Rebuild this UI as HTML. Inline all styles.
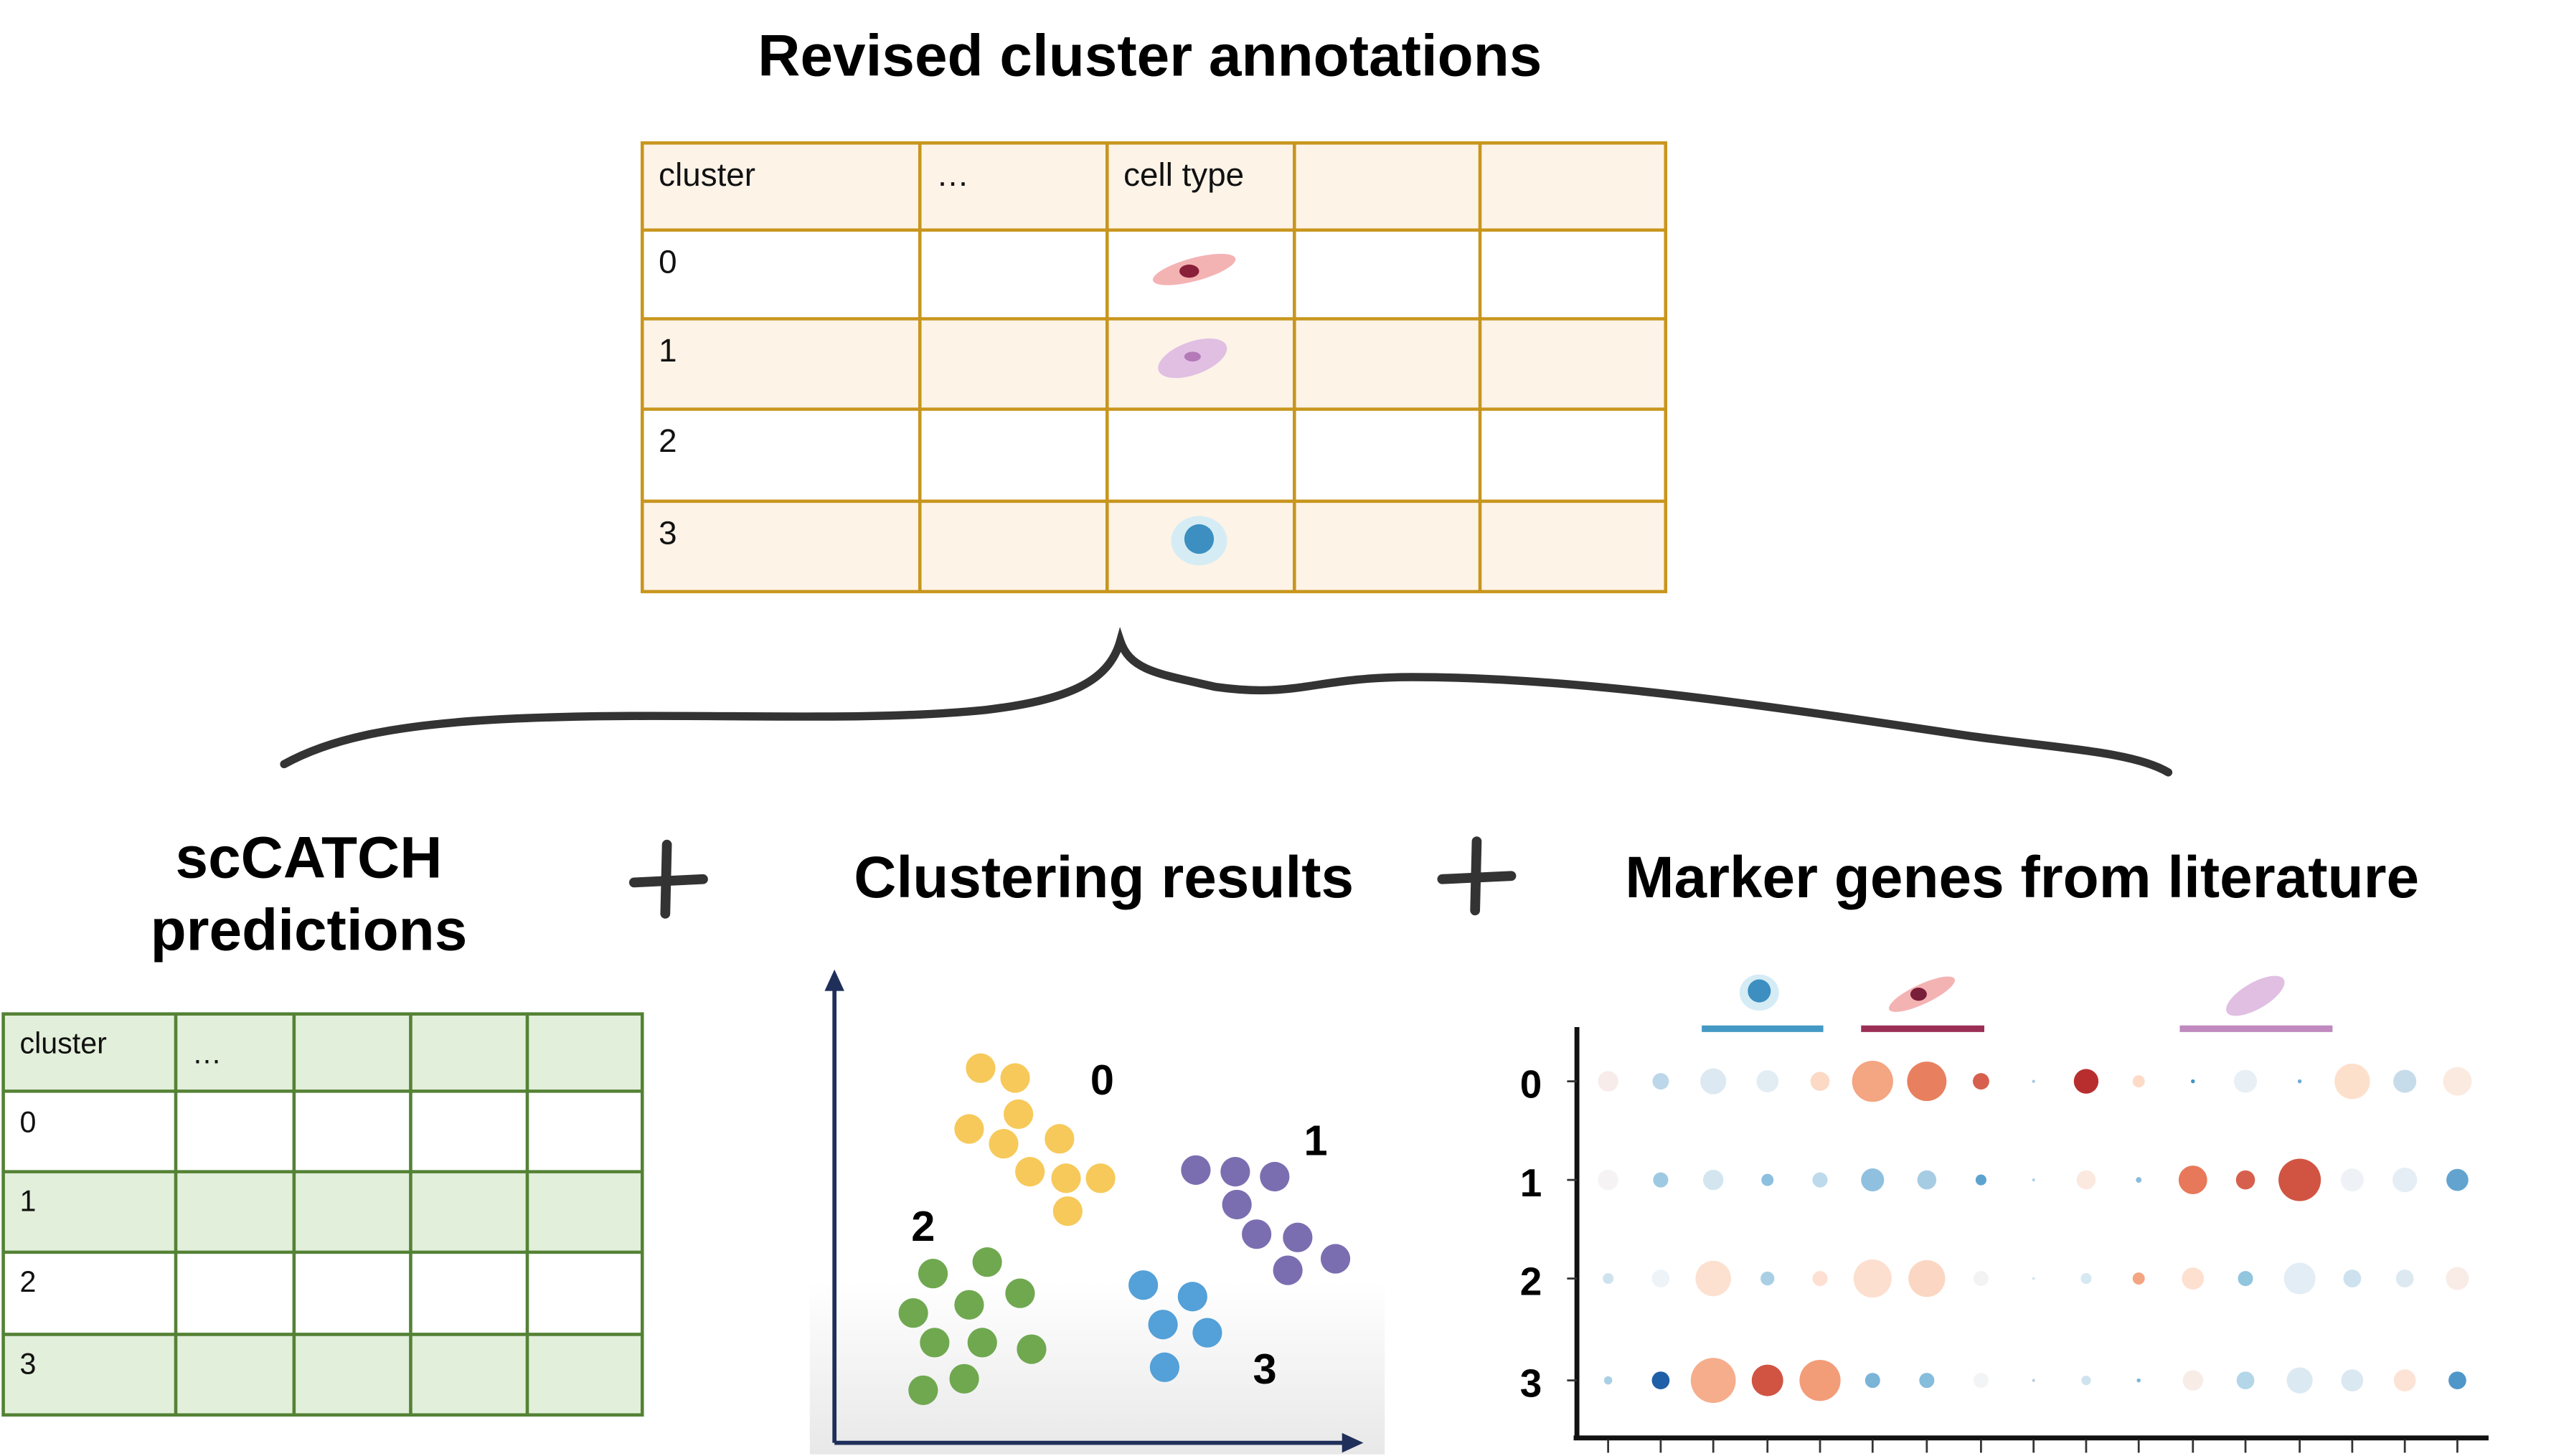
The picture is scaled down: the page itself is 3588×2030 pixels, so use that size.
<!DOCTYPE html>
<html><head><meta charset="utf-8"><style>html,body{margin:0;padding:0;background:#fff}svg{display:block}</style></head>
<body>
<svg xmlns="http://www.w3.org/2000/svg" width="3588" height="2030" viewBox="0 0 1567 886" preserveAspectRatio="none" font-family="Liberation Sans, Arial, sans-serif">
<defs>
<linearGradient id="g" x1="0" y1="0" x2="0" y2="1"><stop offset="0" stop-color="#fff"/><stop offset="1" stop-color="#e8e8e8"/></linearGradient>
</defs>
<rect width="1600" height="900" fill="#fff"/>
<text x="700" y="46" font-size="35.8" font-weight="bold" text-anchor="middle">Revised cluster annotations</text>
<g>
<rect x="391" y="87" width="623" height="53" fill="#fdf3e7"/>
<rect x="391" y="194" width="623" height="55" fill="#fdf3e7"/>
<rect x="391" y="305" width="623" height="55" fill="#fdf3e7"/>
<g stroke="#c8961e" stroke-width="2" fill="none">
<rect x="391" y="87" width="623" height="273"/>
<line x1="391" y1="140" x2="1014" y2="140"/><line x1="391" y1="194" x2="1014" y2="194"/><line x1="391" y1="249" x2="1014" y2="249"/><line x1="391" y1="305" x2="1014" y2="305"/>
<line x1="560" y1="87" x2="560" y2="360"/><line x1="674" y1="87" x2="674" y2="360"/><line x1="788" y1="87" x2="788" y2="360"/><line x1="901" y1="87" x2="901" y2="360"/>
</g>
<g font-size="20" fill="#111">
<text x="401" y="113">cluster</text><text x="570" y="113">…</text><text x="684" y="113">cell type</text>
<text x="401" y="166">0</text><text x="401" y="220">1</text><text x="401" y="275">2</text><text x="401" y="331">3</text>
</g>
<ellipse cx="727" cy="164" rx="26" ry="7" fill="#f4b3b3" transform="rotate(-15 727 164)"/><ellipse cx="724" cy="165" rx="6" ry="4" fill="#8a1f3a"/>
<ellipse cx="726" cy="218" rx="22" ry="10" fill="#e0bfe3" transform="rotate(-20 726 218)"/><ellipse cx="726" cy="217" rx="5" ry="3" fill="#b47ab8"/>
<ellipse cx="730" cy="329" rx="17" ry="15" fill="#d5ecf5"/><ellipse cx="730" cy="328" rx="9" ry="9" fill="#3c8fc0"/>
</g>
<path d="M173,465 C200,450 240,440 320,437 C420,433 520,440 600,432 C650,426 675,415 682,390 C688,408 705,410 740,418 C790,425 800,412 860,412 C960,412 1080,430 1200,448 C1260,456 1300,458 1320,470" fill="none" stroke="#333" stroke-width="5" stroke-linecap="round"/>
<g font-size="35.8" font-weight="bold" text-anchor="middle" fill="#000">
<text x="188" y="534">scCATCH</text><text x="188" y="578">predictions</text>
<text x="672" y="546">Clustering results</text>
<text x="1231" y="546">Marker genes from literature</text>
</g>
<g stroke="#333" stroke-width="6" stroke-linecap="round"><line x1="386" y1="537" x2="428" y2="535"/><line x1="406" y1="514" x2="405" y2="556"/>
<line x1="878" y1="535" x2="920" y2="533"/><line x1="899" y1="512" x2="898" y2="554"/></g>
<g>
<rect x="2" y="617" width="389" height="47" fill="#e2efda"/>
<rect x="2" y="713" width="389" height="49" fill="#e2efda"/>
<rect x="2" y="812" width="389" height="49" fill="#e2efda"/>
<g stroke="#548235" stroke-width="2" fill="none">
<rect x="2" y="617" width="389" height="244"/>
<line x1="2" y1="664" x2="391" y2="664"/><line x1="2" y1="713" x2="391" y2="713"/><line x1="2" y1="762" x2="391" y2="762"/><line x1="2" y1="812" x2="391" y2="812"/>
<line x1="107" y1="617" x2="107" y2="861"/><line x1="179" y1="617" x2="179" y2="861"/><line x1="250" y1="617" x2="250" y2="861"/><line x1="321" y1="617" x2="321" y2="861"/>
</g>
<g font-size="18" fill="#111"><text x="12" y="641">cluster</text><text x="117" y="647">…</text>
<text x="12" y="689">0</text><text x="12" y="737">1</text><text x="12" y="786">2</text><text x="12" y="836">3</text></g>
</g>
<rect x="493" y="780" width="350" height="105" fill="url(#g)"/>
<g stroke="#1f2f5a" stroke-width="2.5" fill="none"><line x1="508" y1="600" x2="508" y2="878"/><line x1="508" y1="878" x2="820" y2="878"/></g>
<polygon points="508,590 502,603 514,603" fill="#1f2f5a"/><polygon points="830,878 817,872 817,884" fill="#1f2f5a"/>
<g fill="#f6c95a"><circle cx="597" cy="650" r="9"/><circle cx="618" cy="656" r="9"/><circle cx="620" cy="678" r="9"/><circle cx="590" cy="687" r="9"/><circle cx="611" cy="696" r="9"/><circle cx="645" cy="693" r="9"/><circle cx="627" cy="713" r="9"/><circle cx="649" cy="717" r="9"/><circle cx="670" cy="717" r="9"/><circle cx="650" cy="737" r="9"/></g>
<g fill="#7b6eb0"><circle cx="728" cy="712" r="9"/><circle cx="752" cy="713" r="9"/><circle cx="776" cy="716" r="9"/><circle cx="753" cy="733" r="9"/><circle cx="765" cy="751" r="9"/><circle cx="790" cy="753" r="9"/><circle cx="813" cy="766" r="9"/><circle cx="784" cy="773" r="9"/></g>
<g fill="#70a850"><circle cx="601" cy="768" r="9"/><circle cx="568" cy="775" r="9"/><circle cx="621" cy="787" r="9"/><circle cx="590" cy="794" r="9"/><circle cx="556" cy="799" r="9"/><circle cx="569" cy="817" r="9"/><circle cx="598" cy="817" r="9"/><circle cx="628" cy="821" r="9"/><circle cx="587" cy="839" r="9"/><circle cx="562" cy="846" r="9"/></g>
<g fill="#54a0d8"><circle cx="696" cy="782" r="9"/><circle cx="726" cy="789" r="9"/><circle cx="708" cy="806" r="9"/><circle cx="735" cy="811" r="9"/><circle cx="709" cy="832" r="9"/></g>
<g font-size="26" font-weight="bold" text-anchor="middle"><text x="671" y="666">0</text><text x="801" y="703">1</text><text x="562" y="755">2</text><text x="770" y="842">3</text></g>
<g stroke="#111" stroke-width="3"><line x1="960" y1="625" x2="960" y2="876"/><line x1="958" y1="875" x2="1515" y2="875"/></g>
<g stroke="#333" stroke-width="1.2">
<line x1="979" y1="876" x2="979" y2="884"/><line x1="1011" y1="876" x2="1011" y2="884"/><line x1="1043" y1="876" x2="1043" y2="884"/><line x1="1076" y1="876" x2="1076" y2="884"/><line x1="1108" y1="876" x2="1108" y2="884"/><line x1="1140" y1="876" x2="1140" y2="884"/><line x1="1173" y1="876" x2="1173" y2="884"/><line x1="1206" y1="876" x2="1206" y2="884"/><line x1="1238" y1="876" x2="1238" y2="884"/><line x1="1270" y1="876" x2="1270" y2="884"/><line x1="1302" y1="876" x2="1302" y2="884"/><line x1="1335" y1="876" x2="1335" y2="884"/><line x1="1367" y1="876" x2="1367" y2="884"/><line x1="1400" y1="876" x2="1400" y2="884"/><line x1="1432" y1="876" x2="1432" y2="884"/><line x1="1464" y1="876" x2="1464" y2="884"/><line x1="1496" y1="876" x2="1496" y2="884"/>
<line x1="954" y1="658" x2="960" y2="658"/><line x1="954" y1="718" x2="960" y2="718"/><line x1="954" y1="778" x2="960" y2="778"/><line x1="954" y1="840" x2="960" y2="840"/>
</g>
<g font-size="24" font-weight="bold" text-anchor="middle"><text x="932" y="668">0</text><text x="932" y="728">1</text><text x="932" y="788">2</text><text x="932" y="850">3</text></g>
<rect x="1036" y="624" width="74" height="4" fill="#4499c4"/><rect x="1133" y="624" width="75" height="4" fill="#9b2e55"/><rect x="1327" y="624" width="93" height="4" fill="#c089bf"/>
<ellipse cx="1071" cy="604" rx="12" ry="11" fill="#d5ecf5"/><ellipse cx="1071" cy="603" rx="7" ry="7" fill="#3c8fc0"/>
<ellipse cx="1170" cy="605" rx="22" ry="6" fill="#f4b3b3" transform="rotate(-25 1170 605)"/><ellipse cx="1168" cy="605" rx="5" ry="4" fill="#7a1f3a"/>
<ellipse cx="1373" cy="606" rx="20" ry="8" fill="#e0bfe3" transform="rotate(-30 1373 606)"/>
<g>
<circle cx="979" cy="658" r="6.2" fill="#f7ece9"/><circle cx="1011" cy="658" r="5" fill="#bcd7ea"/><circle cx="1043" cy="658" r="7.9" fill="#dce9f2"/><circle cx="1076" cy="658" r="6.7" fill="#e1ecf3"/><circle cx="1108" cy="658" r="5.8" fill="#fcd9c5"/><circle cx="1140" cy="658" r="12.5" fill="#f4a582"/><circle cx="1173" cy="658" r="12" fill="#e8805f"/><circle cx="1206" cy="658" r="5" fill="#d6604d"/><circle cx="1238" cy="658" r="0.9" fill="#9ecae1"/><circle cx="1270" cy="658" r="7.5" fill="#b82e2e"/><circle cx="1302" cy="658" r="3.7" fill="#fddbc7"/><circle cx="1335" cy="658" r="1.2" fill="#4393c3"/><circle cx="1367" cy="658" r="7" fill="#e8eff5"/><circle cx="1400" cy="658" r="1.2" fill="#6baed6"/><circle cx="1432" cy="658" r="10.8" fill="#fde0cc"/><circle cx="1464" cy="658" r="7" fill="#c6dcea"/><circle cx="1496" cy="658" r="8.7" fill="#fbeae0"/>
<circle cx="979" cy="718" r="6.2" fill="#f5f3f3"/><circle cx="1011" cy="718" r="4.6" fill="#9ec9e2"/><circle cx="1043" cy="718" r="6.2" fill="#d3e6f0"/><circle cx="1076" cy="718" r="3.7" fill="#8dbfdf"/><circle cx="1108" cy="718" r="4.6" fill="#bcdaeb"/><circle cx="1140" cy="718" r="7" fill="#90c0df"/><circle cx="1173" cy="718" r="5.8" fill="#a6cce4"/><circle cx="1206" cy="718" r="3.3" fill="#5ea3cf"/><circle cx="1238" cy="718" r="0.9" fill="#aacfe5"/><circle cx="1270" cy="718" r="5.8" fill="#fbe9e0"/><circle cx="1302" cy="718" r="1.7" fill="#86bcdc"/><circle cx="1335" cy="718" r="8.7" fill="#e7795a"/><circle cx="1367" cy="718" r="5.8" fill="#d6604d"/><circle cx="1400" cy="718" r="12.9" fill="#d15443"/><circle cx="1432" cy="718" r="7" fill="#eef2f6"/><circle cx="1464" cy="718" r="7.5" fill="#e5eef4"/><circle cx="1496" cy="718" r="6.7" fill="#62a4cf"/>
<circle cx="979" cy="778" r="3.3" fill="#cfe3ef"/><circle cx="1011" cy="778" r="5.4" fill="#edf3f7"/><circle cx="1043" cy="778" r="10.8" fill="#fce1d1"/><circle cx="1076" cy="778" r="4.2" fill="#a9cfe5"/><circle cx="1108" cy="778" r="4.6" fill="#fde0d2"/><circle cx="1140" cy="778" r="11.6" fill="#fddfcf"/><circle cx="1173" cy="778" r="11.2" fill="#fbd7c3"/><circle cx="1206" cy="778" r="4.6" fill="#f3f3f3"/><circle cx="1238" cy="778" r="0.9" fill="#d5e6f0"/><circle cx="1270" cy="778" r="3.3" fill="#d6e8f2"/><circle cx="1302" cy="778" r="3.7" fill="#f4a582"/><circle cx="1335" cy="778" r="6.7" fill="#fde0cf"/><circle cx="1367" cy="778" r="4.6" fill="#92c5de"/><circle cx="1400" cy="778" r="9.6" fill="#e3edf5"/><circle cx="1432" cy="778" r="5.4" fill="#cde2ee"/><circle cx="1464" cy="778" r="5.4" fill="#dde9f1"/><circle cx="1496" cy="778" r="7" fill="#f9ece6"/>
<circle cx="979" cy="840" r="2.5" fill="#a9cfe5"/><circle cx="1011" cy="840" r="5.4" fill="#1f5fa8"/><circle cx="1043" cy="840" r="13.7" fill="#f5ad8c"/><circle cx="1076" cy="840" r="9.6" fill="#d15443"/><circle cx="1108" cy="840" r="12.5" fill="#f29d78"/><circle cx="1140" cy="840" r="4.6" fill="#7ab5d8"/><circle cx="1173" cy="840" r="4.6" fill="#86bcdc"/><circle cx="1206" cy="840" r="4.6" fill="#f2f4f6"/><circle cx="1238" cy="840" r="0.9" fill="#bbccdd"/><circle cx="1270" cy="840" r="2.9" fill="#cfe3ef"/><circle cx="1302" cy="840" r="1.2" fill="#7ab5d8"/><circle cx="1335" cy="840" r="6.2" fill="#f8ece7"/><circle cx="1367" cy="840" r="5.4" fill="#b3d6e8"/><circle cx="1400" cy="840" r="7.9" fill="#dbe9f2"/><circle cx="1432" cy="840" r="6.7" fill="#dae8f1"/><circle cx="1464" cy="840" r="6.7" fill="#fce3d6"/><circle cx="1496" cy="840" r="5.4" fill="#4f97c8"/>
</g>
</svg>
</body></html>
